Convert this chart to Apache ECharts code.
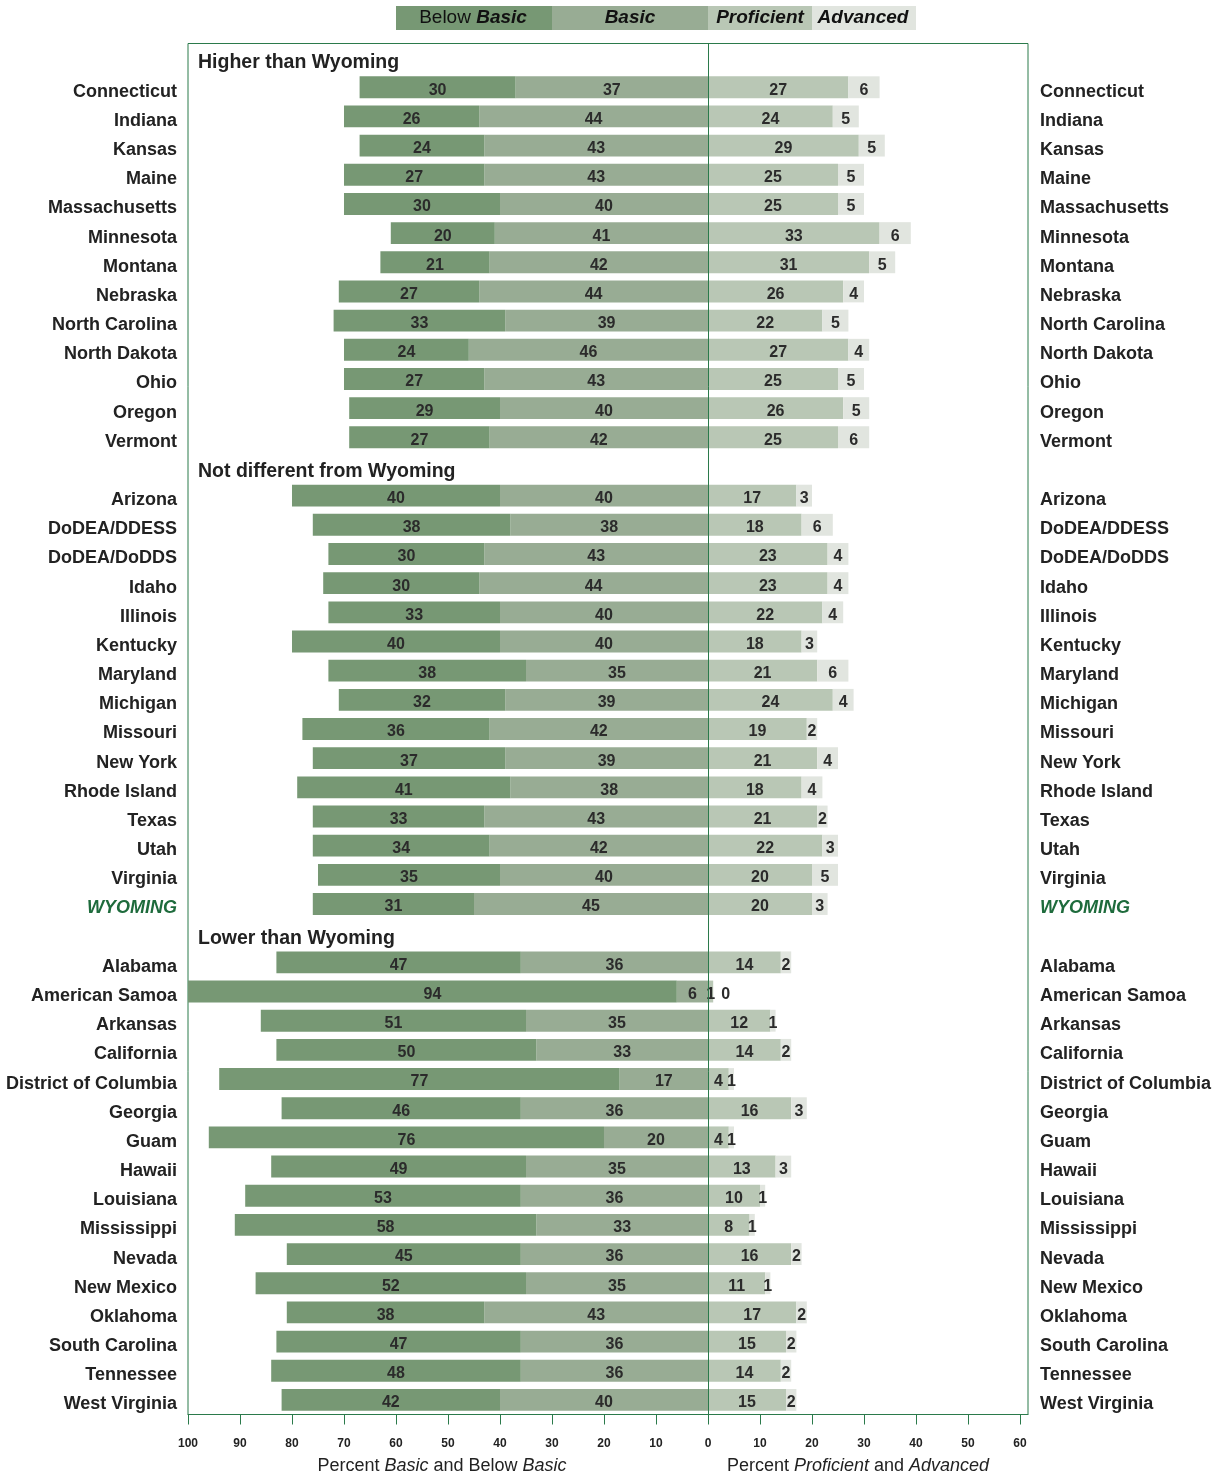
<!DOCTYPE html>
<html><head><meta charset="utf-8">
<script src="https://cdn.jsdelivr.net/npm/echarts@6/dist/echarts.min.js"></script>
<style>html,body{margin:0;padding:0;background:#fff}#c{width:1220px;height:1475px}</style>
</head><body><div id="c"></div>
<script>
// ---------- DATA ----------
const headers = ['Higher than Wyoming', 'Not different from Wyoming', 'Lower than Wyoming'];

const higherStates = ['Connecticut','Indiana','Kansas','Maine','Massachusetts','Minnesota','Montana','Nebraska','North Carolina','North Dakota','Ohio','Oregon','Vermont'];
const higherBelowBasic = [30,26,24,27,30,20,21,27,33,24,27,29,27];
const higherBasic      = [37,44,43,43,40,41,42,44,39,46,43,40,42];
const higherProficient = [27,24,29,25,25,33,31,26,22,27,25,26,25];
const higherAdvanced   = [6,5,5,5,5,6,5,4,5,4,5,5,6];

const sameStates = ['Arizona','DoDEA/DDESS','DoDEA/DoDDS','Idaho','Illinois','Kentucky','Maryland','Michigan','Missouri','New York','Rhode Island','Texas','Utah','Virginia','WYOMING'];
const sameBelowBasic = [40,38,30,30,33,40,38,32,36,37,41,33,34,35,31];
const sameBasic      = [40,38,43,44,40,40,35,39,42,39,38,43,42,40,45];
const sameProficient = [17,18,23,23,22,18,21,24,19,21,18,21,22,20,20];
const sameAdvanced   = [3,6,4,4,4,3,6,4,2,4,4,2,3,5,3];

const lowerStates = ['Alabama','American Samoa','Arkansas','California','District of Columbia','Georgia','Guam','Hawaii','Louisiana','Mississippi','Nevada','New Mexico','Oklahoma','South Carolina','Tennessee','West Virginia'];
const lowerBelowBasic = [47,94,51,50,77,46,76,49,53,58,45,52,38,47,48,42];
const lowerBasic      = [36,6,35,33,17,36,20,35,36,33,36,35,43,36,36,40];
const lowerProficient = [14,1,12,14,4,16,4,13,10,8,16,11,17,15,14,15];
const lowerAdvanced   = [2,0,1,2,1,3,1,3,1,1,2,1,2,2,2,2];

const xTicks = [-100,-90,-80,-70,-60,-50,-40,-30,-20,-10,0,10,20,30,40,50,60];

// ---------- BUILD ----------
const categories = [headers[0], ...higherStates, headers[1], ...sameStates, headers[2], ...lowerStates];
function build(a, b, c) { return [null, ...a, null, ...b, null, ...c]; }
const belowBasic = build(higherBelowBasic, sameBelowBasic, lowerBelowBasic);
const basic = build(higherBasic, sameBasic, lowerBasic);
const proficient = build(higherProficient, sameProficient, lowerProficient);
const advanced = build(higherAdvanced, sameAdvanced, lowerAdvanced);

const C_BELOW = '#779874', C_BASIC = '#98ac94', C_PROF = '#b9c7b5', C_ADV = '#e1e5df';
const C_LINE = '#2b7a4b', C_WY = '#1e6b3c', C_TXT = '#222222';
const FONT = '"Liberation Sans", Arial, sans-serif';

const lbl = {
  show: true, position: 'inside', fontSize: 16, fontWeight: 'bold', color: '#2b2b2b',
  fontFamily: FONT, offset: [0, 3],
  formatter: p => Math.abs(p.value)
};
function ser(name, arr, color, sign) {
  return {
    name, type: 'bar', stack: 'all', barWidth: '75%', yAxisIndex: 0,
    itemStyle: { color },
    label: lbl,
    data: arr.map(v => v == null ? null : (v === 0 ? { value: 0, label: { position: 'right', distance: 8 } } : sign * v))
  };
}

const yLabelFmt = v => headers.includes(v) ? '' : (v === 'WYOMING' ? '{w|WYOMING}' : v);
const yLabelStyle = {
  interval: 0, fontSize: 18, fontWeight: 'bold', color: C_TXT, fontFamily: FONT,
  padding: [9, 0, 0, 0],
  formatter: yLabelFmt,
  rich: { w: { fontSize: 18, fontWeight: 'bold', fontStyle: 'italic', color: C_WY, fontFamily: FONT } }
};

const chart = echarts.init(document.getElementById('c'), null, { renderer: 'canvas' });
chart.setOption({
  animation: false,
  textStyle: { fontFamily: FONT },
  grid: { left: 188, right: 192, top: 43.5, bottom: 60.5, show: true, borderColor: C_LINE, borderWidth: 1, containLabel: false },
  xAxis: {
    type: 'value', min: -100, max: 61.54,
    axisLine: { show: true, lineStyle: { color: C_LINE, width: 1 } },
    axisTick: { show: true, length: 10, lineStyle: { color: C_LINE }, customValues: xTicks },
    axisLabel: { customValues: xTicks, margin: 23, fontSize: 12, fontWeight: 'bold', color: C_TXT, formatter: v => Math.abs(v) },
    splitLine: { show: false }
  },
  yAxis: [
    { type: 'category', data: categories, inverse: true, position: 'left',
      axisLine: { show: false }, axisTick: { show: false },
      axisLabel: Object.assign({ margin: 11 }, yLabelStyle) },
    { type: 'category', data: categories, inverse: true, position: 'right',
      axisLine: { show: false }, axisTick: { show: false },
      axisLabel: Object.assign({ margin: 12 }, yLabelStyle) }
  ],
  series: [
    ser('Basic', basic, C_BASIC, -1),
    ser('Below Basic', belowBasic, C_BELOW, -1),
    ser('Proficient', proficient, C_PROF, 1),
    ser('Advanced', advanced, C_ADV, 1),
    {
      type: 'scatter', silent: true, symbolSize: 0, z: 5,
      itemStyle: { opacity: 1 },
      data: headers.map(h => [-100, h]),
      label: { show: true, position: 'right', distance: 10, fontSize: 19.5, fontWeight: 'bold', color: C_TXT,
               offset: [0, 5], formatter: p => p.data[1] },
      markLine: { silent: true, symbol: ['none', 'none'], label: { show: false },
                  lineStyle: { color: C_LINE, width: 1, type: 'solid', opacity: 1 }, data: [{ xAxis: 0 }] }
    }
  ],
  graphic: [
    { type: 'rect', shape: { x: 396, y: 6, width: 156, height: 24 }, style: { fill: C_BELOW } },
    { type: 'rect', shape: { x: 552, y: 6, width: 156, height: 24 }, style: { fill: C_BASIC } },
    { type: 'rect', shape: { x: 708, y: 6, width: 104, height: 24 }, style: { fill: C_PROF } },
    { type: 'rect', shape: { x: 812, y: 6, width: 104, height: 24 }, style: { fill: C_ADV } },
    { type: 'text', x: 473, y: 18, style: { text: 'Below {b|Basic}', align: 'center', verticalAlign: 'middle', fontSize: 19, fontFamily: FONT, fill: '#111',
      rich: { b: { fontSize: 19, fontWeight: 'bold', fontStyle: 'italic', fontFamily: FONT, fill: '#111' } } } },
    { type: 'text', x: 630, y: 18, style: { text: 'Basic', align: 'center', verticalAlign: 'middle', fontSize: 19, fontWeight: 'bold', fontStyle: 'italic', fontFamily: FONT, fill: '#111' } },
    { type: 'text', x: 760, y: 18, style: { text: 'Proficient', align: 'center', verticalAlign: 'middle', fontSize: 19, fontWeight: 'bold', fontStyle: 'italic', fontFamily: FONT, fill: '#111' } },
    { type: 'text', x: 863, y: 18, style: { text: 'Advanced', align: 'center', verticalAlign: 'middle', fontSize: 19, fontWeight: 'bold', fontStyle: 'italic', fontFamily: FONT, fill: '#111' } },
    { type: 'text', x: 442, y: 1466, style: { text: 'Percent {i|Basic} and Below {i|Basic}', align: 'center', verticalAlign: 'middle', fontSize: 18, fontFamily: FONT, fill: C_TXT,
      rich: { i: { fontSize: 18, fontStyle: 'italic', fontFamily: FONT, fill: C_TXT } } } },
    { type: 'text', x: 858, y: 1466, style: { text: 'Percent {i|Proficient} and {i|Advanced}', align: 'center', verticalAlign: 'middle', fontSize: 18, fontFamily: FONT, fill: C_TXT,
      rich: { i: { fontSize: 18, fontStyle: 'italic', fontFamily: FONT, fill: C_TXT } } } }
  ]
});
</script>
</body></html>
